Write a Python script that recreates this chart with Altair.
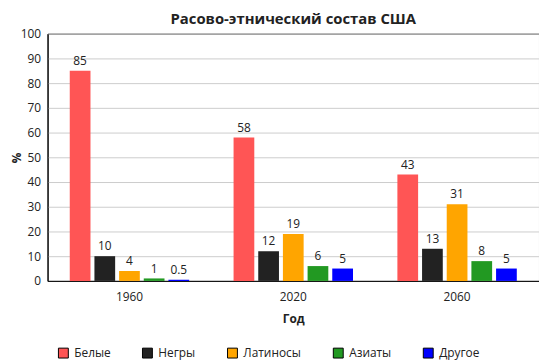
import altair as alt
import pandas as pd

years = ["1960", "2020", "2060"]
groups = ["Белые", "Негры", "Латиносы", "Азиаты", "Другое"]
v1960 = [85, 10, 4, 1, 0.5]
v2020 = [58, 12, 19, 6, 5]
v2060 = [43, 13, 31, 8, 5]
colors = ["#FF5555", "#222222", "#FFA500", "#229922", "#0000FF"]

rows = []
for yr, vals in zip(years, [v1960, v2020, v2060]):
    for g, v in zip(groups, vals):
        lab = str(int(v)) if float(v).is_integer() else str(v)
        rows.append({"year": yr, "group": g, "value": v, "label": lab})
df = pd.DataFrame(rows)

FONT = "Open Sans"

base = alt.Chart(df).encode(
    x=alt.X(
        "year:N",
        sort=years,
        scale=alt.Scale(paddingInner=0, paddingOuter=0),
        axis=alt.Axis(
            title="Год",
            labelAngle=0,
            ticks=False,
            labelPadding=11,
            labelFontSize=12,
            labelColor="#222222",
            titleFontSize=12,
            titleFontWeight="bold",
            titleColor="#222222",
            titlePadding=11,
            domainColor="#000000",
            grid=False,
        ),
    ),
    xOffset=alt.XOffset(
        "group:N", sort=groups, scale=alt.Scale(paddingInner=0.16, paddingOuter=0.9)
    ),
    y=alt.Y(
        "value:Q",
        scale=alt.Scale(domain=[0, 100]),
        axis=alt.Axis(
            title="%",
            values=list(range(0, 101, 10)),
            ticks=False,
            labelPadding=7,
            labelFontSize=12,
            labelColor="#222222",
            gridColor="#cccccc",
            domainColor="#000000",
            titleFontSize=12,
            titleFontWeight="bold",
            titleColor="#222222",
            titleX=-31,
            titleY=125,
            titleAngle=-90,
            titleAlign="center",
            titleBaseline="middle",
        ),
    ),
)

bars = base.mark_bar().encode(
    color=alt.Color(
        "group:N",
        sort=groups,
        scale=alt.Scale(domain=groups, range=colors),
        legend=alt.Legend(
            title=None,
            orient="none",
            legendX=10,
            legendY=317,
            direction="horizontal",
            symbolType="square",
            symbolSize=100,
            symbolStrokeColor="#000000",
            symbolStrokeWidth=1,
            symbolOpacity=1,
            labelFontSize=12,
            labelColor="#222222",
            labelOffset=5,
            columnPadding=30,
        ),
    )
)

text = base.mark_text(baseline="bottom", dy=-3, fontSize=12, color="#222222").encode(
    text="label:N"
)

chart = (
    alt.layer(bars, text)
    .properties(
        width=497,
        height=250,
        autosize=alt.AutoSizeParams(type="none"),
        padding={"left": 40, "top": 24, "right": 0, "bottom": 78},
        title=alt.TitleParams(
            "Расово-этнический состав США",
            fontSize=15,
            fontWeight="bold",
            color="#222222",
            offset=1,
        ),
    )
    .configure(font=FONT)
    .configure_view(stroke="#000000", strokeWidth=1)
)

chart.save("out.html", embed_options={"renderer": "svg", "actions": False})
